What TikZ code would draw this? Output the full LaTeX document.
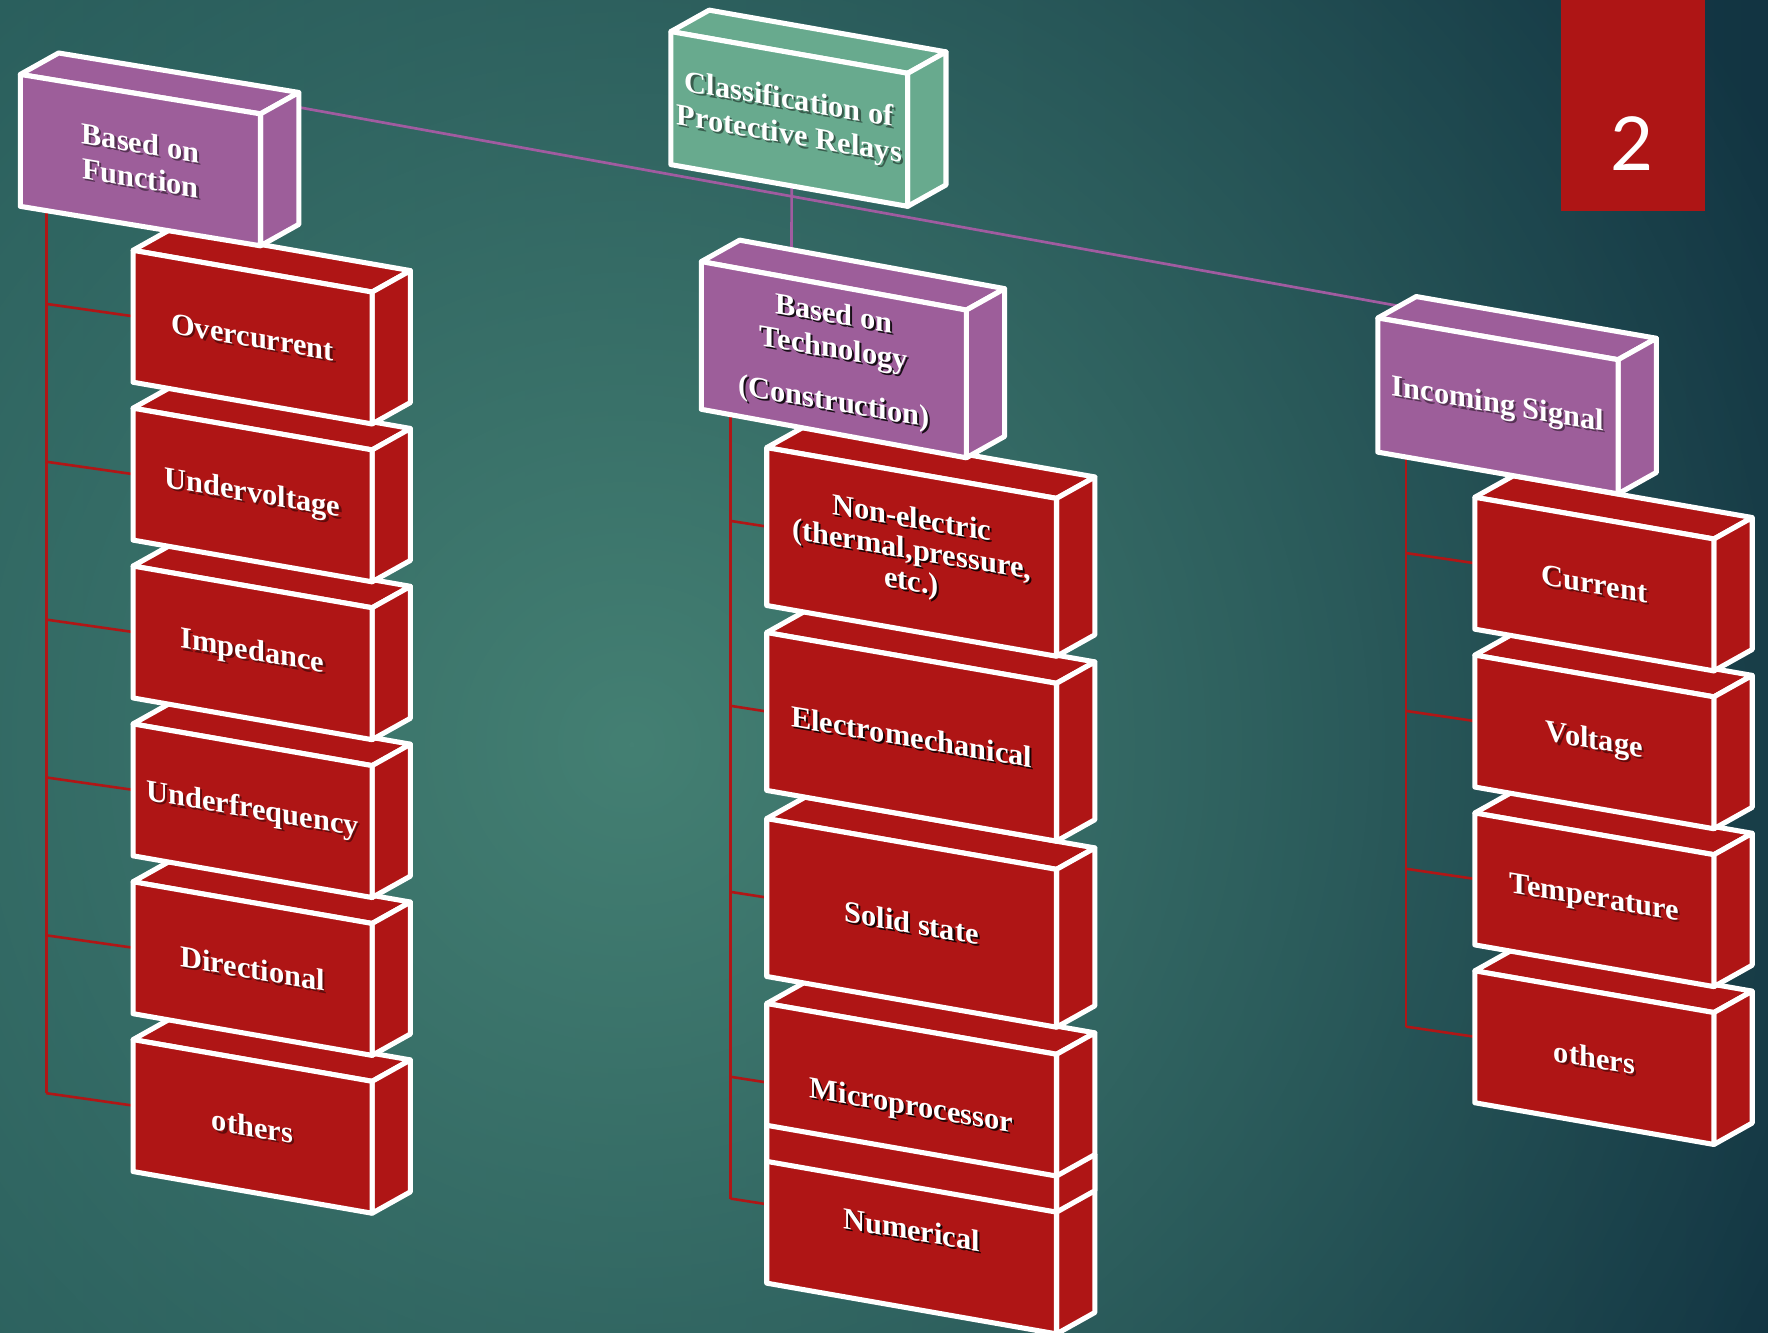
\documentclass[tikz,border=0pt]{standalone}
\usepackage{fontspec}
\setmainfont{Liberation Serif}
\newfontfamily\numfont{Lato}
\usetikzlibrary{calc,fadings}

\definecolor{boxred}{RGB}{175,21,21}
\definecolor{boxpurple}{RGB}{157,94,154}
\definecolor{boxgreen}{RGB}{104,170,142}
\definecolor{linkred}{RGB}{176,22,22}
\definecolor{linkpurple}{RGB}{160,92,160}
\definecolor{bgleft}{RGB}{34,84,86}
\definecolor{bgright}{RGB}{18,52,66}
\definecolor{bgglow}{RGB}{68,128,115}
\definecolor{pagered}{RGB}{174,21,21}

\tikzfading[name=glowfade, inner color=transparent!0, outer color=transparent!100]

\tikzset{
  face/.style={draw=white, line width=4.5pt, line join=round},
  edgeline/.style={draw=white, line width=4.5pt, line join=round},
  lbl/.style={text=white, font=\bfseries\fontsize{27}{31}\selectfont, align=center, inner sep=0pt, yslant=-0.17},
  lblshadow/.style={lbl, text=black, opacity=0.45},
  glow/.style={lbl, text=black, opacity=0.85},
  redlink/.style={draw=linkred, line width=2.3pt},
  purplelink/.style={draw=linkpurple, line width=2.4pt},
}

% name, x, y, w, h, drop
\newcommand\defbx[6]{%
  \coordinate (#1-tl) at (#2,#3);
  \coordinate (#1-tr) at ($(#1-tl)+(#4,#6)$);
  \coordinate (#1-bl) at ($(#1-tl)+(0,#5)$);
  \coordinate (#1-br) at ($(#1-tr)+(0,#5)$);
  \coordinate (#1-c) at ($(#1-tl)!0.5!(#1-br)$);
  \coordinate (#1-l) at ($(#1-tl)!0.5!(#1-bl)$);
}
% name, fill
\newcommand\paintbx[2]{%
  \path[face, fill=#2] (#1-tl) -- ++(34,-19) -- ($(#1-tr)+(34,-19)$) -- (#1-tr) -- cycle;
  \path[face, fill=#2] (#1-tr) -- ++(34,-19) -- ($(#1-br)+(34,-19)$) -- (#1-br) -- cycle;
  \path[face, fill=#2] (#1-tl) -- (#1-tr) -- (#1-br) -- (#1-bl) -- cycle;
}
\newcommand\shadowtext[2]{%
  \node[lblshadow] (#1-s) at ($(#1-c)+(2,2)$) {#2};
  \node[lbl] (#1-t) at (#1-c) {#2};
}
\newcommand\glowtext[2]{%
  \node[glow] (#1-s) at ($(#1-c)+(1.8,1.8)$) {#2};
  \node[lbl] (#1-t) at (#1-c) {#2};
}

\begin{document}
\begin{tikzpicture}[x=1pt,y=-1pt]
\useasboundingbox (0,0) rectangle (1568,1182);
\begin{scope}
  \clip (0,0) rectangle (1568,1182);
  \shade[left color=bgleft, right color=bgright] (0,0) rectangle (1568,1182);
  \fill[bgglow, path fading=glowfade] (560,660) circle[radius=1150];
\end{scope}

% page number
\fill[pagered] (1384,0) rectangle (1512,187);
\node[font=\numfont\fontsize{66}{66}\selectfont, text=white, inner sep=0pt] (pgnum) at (1447,127) {2};

% geometry
\defbx{top}{595}{28}{210}{118}{37}
\defbx{fn}{18}{66}{213}{117}{35}
\defbx{tech}{622}{232}{235}{131}{43}
\defbx{in}{1222}{282}{213}{119}{37}
\defbx{lo1}{118}{222}{212}{117}{37}
\defbx{lo2}{118}{362}{212}{117}{37}
\defbx{lo3}{118}{502}{212}{117}{37}
\defbx{lo4}{118}{642}{212}{117}{37}
\defbx{lo5}{118}{782}{212}{117}{37}
\defbx{lo6}{118}{922}{212}{117}{37}
\defbx{mi1}{680}{397}{257}{140}{45}
\defbx{mi2}{680}{561}{257}{140}{45}
\defbx{mi3}{680}{726}{257}{140}{45}
\defbx{mi4}{680}{890}{257}{140}{45}
\defbx{mi5}{680}{998}{257}{140}{45}
\defbx{ri1}{1308}{441}{212}{117}{37}
\defbx{ri2}{1308}{581}{212}{117}{37}
\defbx{ri3}{1308}{721}{212}{117}{37}
\defbx{ri4}{1308}{861}{212}{117}{37}

% purple connectors
\coordinate (fn-link) at ($(fn-tr)+(33,-6)$);
\coordinate (in-link) at ($(in-tl)+(22,-10)$);
\coordinate (top-link) at ($(top-bl)!0.51!(top-br)$);
\coordinate (tech-link) at ($(tech-tl)+(80,-8)$);
\draw[purplelink] (fn-link) -- (in-link);
\draw[purplelink] (top-link) -- (tech-link);

% red trunks and branches
\coordinate (fn-trunk) at ($(fn-bl)+(23,4)$);
\coordinate (tech-trunk) at ($(tech-bl)+(26,5)$);
\coordinate (in-trunk) at ($(in-bl)+(25,4)$);
\foreach \b in {lo1,lo2,lo3,lo4,lo5,lo6} {
  \coordinate (\b-j) at ($(\b-l)+(-77,-11)$);
  \draw[redlink] (\b-j) -- (\b-l);
}
\foreach \b in {mi1,mi2,mi3,mi4,mi5} {
  \coordinate (\b-j) at ($(\b-l)+(-32,-5)$);
  \draw[redlink] (\b-j) -- (\b-l);
}
\foreach \b in {ri1,ri2,ri3,ri4} {
  \coordinate (\b-j) at ($(\b-l)+(-61,-9)$);
  \draw[redlink] (\b-j) -- (\b-l);
}
\draw[redlink] (fn-trunk) -- (lo6-j);
\draw[redlink] (tech-trunk) -- (mi5-j);
\draw[redlink] (in-trunk) -- (ri4-j);

% boxes, back to front
\paintbx{top}{boxgreen}
\paintbx{lo6}{boxred}
\paintbx{lo5}{boxred}
\paintbx{lo4}{boxred}
\paintbx{lo3}{boxred}
\paintbx{lo2}{boxred}
\paintbx{lo1}{boxred}
\paintbx{fn}{boxpurple}
\paintbx{mi5}{boxred}
\paintbx{mi4}{boxred}
\draw[edgeline] (mi5-tl) -- (mi5-tr) -- ($(mi5-tr)+(34,-19)$);
\paintbx{mi3}{boxred}
\paintbx{mi2}{boxred}
\paintbx{mi1}{boxred}
\paintbx{tech}{boxpurple}
\paintbx{ri4}{boxred}
\paintbx{ri3}{boxred}
\paintbx{ri2}{boxred}
\paintbx{ri1}{boxred}
\paintbx{in}{boxpurple}

% labels
\shadowtext{top}{Classification of\\Protective Relays}
\shadowtext{fn}{Based on\\Function}
\glowtext{tech}{Based on\\Technology\\[16pt](Construction)}
\shadowtext{in}{Incoming Signal}
\shadowtext{lo1}{Overcurrent}
\shadowtext{lo2}{Undervoltage}
\shadowtext{lo3}{Impedance}
\shadowtext{lo4}{Underfrequency}
\shadowtext{lo5}{Directional}
\shadowtext{lo6}{others}
\glowtext{mi1}{Non-electric\\[-3pt](thermal,pressure,\\[-3pt]etc.)}
\glowtext{mi2}{Electromechanical}
\glowtext{mi3}{Solid state}
\glowtext{mi4}{Microprocessor}
\glowtext{mi5}{Numerical}
\shadowtext{ri1}{Current}
\shadowtext{ri2}{Voltage}
\shadowtext{ri3}{Temperature}
\shadowtext{ri4}{others}
\end{tikzpicture}
\end{document}
